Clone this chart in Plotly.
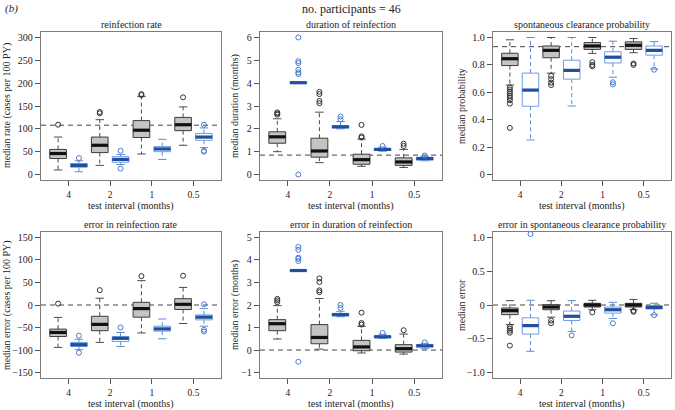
import plotly.graph_objects as go

intervals = ["4", "2", "1", "0.5"]

# each row: [lower whisker, q1, median, q3, upper whisker] for test interval 4, 2, 1, 0.5
rate_gray = [[10, 35, 46, 55, 82], [20, 48, 64, 82, 120], [45, 81, 97, 118, 171], [64, 96, 109, 125, 148]]
rate_gray_out = [[109], [134, 137], [174, 176], [169]]
rate_blue = [[6, 16, 20, 24, 30], [22, 27, 33, 39, 44], [33, 50, 56, 61, 77], [59, 75, 82, 90, 102]]
rate_blue_out = [[36], [52, 13], [], [109, 52, 50]]
rate_true = 108

dur_gray = [[1.0, 1.37, 1.65, 1.87, 2.44], [0.52, 0.76, 1.03, 1.59, 2.73], [0.36, 0.45, 0.65, 0.89, 1.55], [0.31, 0.40, 0.55, 0.73, 1.10]]
dur_gray_out = [[2.62, 2.67, 2.72], [3.12, 3.22, 3.52, 3.62], [1.62, 1.67, 2.17], [1.25, 1.35]]
dur_blue = [[3.99, 4.0, 4.02, 4.04, 4.05], [2.0, 2.04, 2.09, 2.13, 2.32], [1.02, 1.05, 1.1, 1.14, 1.2], [0.6, 0.63, 0.7, 0.75, 0.8]]
dur_blue_out = [[4.40, 4.47, 4.59, 4.88, 4.96, 6.0, 0.0], [2.42, 2.54], [1.25], [0.83]]
dur_true = 0.85

clr_gray = [[0.653, 0.795, 0.845, 0.885, 0.983], [0.74, 0.852, 0.906, 0.938, 1.0], [0.884, 0.913, 0.938, 0.963, 1.0], [0.889, 0.913, 0.943, 0.968, 0.993]]
clr_gray_out = [[0.636, 0.621, 0.606, 0.592, 0.574, 0.559, 0.542, 0.517, 0.34], [0.72, 0.696, 0.671, 0.653], [0.82, 0.80, 0.79], [0.81, 0.80]]
clr_blue = [[0.252, 0.498, 0.616, 0.74, 1.0], [0.5, 0.696, 0.76, 0.834, 1.0], [0.71, 0.814, 0.856, 0.896, 0.973], [0.77, 0.871, 0.906, 0.938, 0.97]]
clr_blue_out = [[], [], [0.673, 0.658], [0.765]]
clr_true = 0.933

erate_gray = [[-94, -70, -61, -53.5, -27.5], [-83, -57, -43, -25, 15], [-62, -27, -8, 6, 54], [-41, -10, 1.5, 14, 39]]
erate_gray_out = [[3], [33], [64], [65]]
erate_blue = [[-99, -92, -88, -83, -76], [-92, -81, -74, -70, -61], [-75, -58, -53, -47, -31], [-47, -33, -27, -22, -8]]
erate_blue_out = [[-68, -106], [-50], [], [1.5, -55, -59]]

edur_gray = [[0.49, 0.86, 1.17, 1.35, 1.97], [0.04, 0.28, 0.56, 1.13, 2.29], [-0.13, -0.03, 0.14, 0.43, 1.05], [-0.18, -0.09, 0.06, 0.24, 0.71]]
edur_gray_out = [[2.12, 2.2, 2.27], [2.57, 2.65, 3.02, 3.18], [1.13, 1.2, 1.66], [0.88]]
edur_blue = [[3.49, 3.51, 3.53, 3.55, 3.57], [1.48, 1.52, 1.57, 1.63, 1.72], [0.52, 0.55, 0.59, 0.63, 0.7], [0.06, 0.14, 0.19, 0.24, 0.3]]
edur_blue_out = [[3.95, 4.05, 4.1, 4.45, 4.58, -0.52], [1.87, 2.0], [0.76], [0.34]]

eclr_gray = [[-0.29, -0.143, -0.084, -0.044, 0.064], [-0.18, -0.07, -0.03, 0.005, 0.064], [-0.07, -0.03, 0.0, 0.025, 0.07], [-0.07, -0.03, 0.0, 0.025, 0.08]]
eclr_gray_out = [[-0.32, -0.35, -0.38, -0.41, -0.6], [-0.23, -0.27], [-0.11], [-0.085, -0.1]]
eclr_blue = [[-0.685, -0.43, -0.305, -0.19, 0.07], [-0.39, -0.23, -0.167, -0.09, 0.064], [-0.2, -0.12, -0.07, -0.03, 0.04], [-0.145, -0.06, -0.035, -0.01, 0.025]]
eclr_blue_out = [[1.05], [-0.45], [-0.27], [-0.15]]

panels = [
    dict(title="reinfection rate", ytitle="median rate (cases per 100 PY)", gray=rate_gray, gout=rate_gray_out,
         blue=rate_blue, bout=rate_blue_out, ref=rate_true, yrange=[-12, 312],
         tv=[0, 50, 100, 150, 200, 250, 300], tt=["0", "50", "100", "150", "200", "250", "300"]),
    dict(title="duration of reinfection", ytitle="median duration (months)", gray=dur_gray, gout=dur_gray_out,
         blue=dur_blue, bout=dur_blue_out, ref=dur_true, yrange=[-0.24, 6.24],
         tv=[0, 1, 2, 3, 4, 5, 6], tt=["0", "1", "2", "3", "4", "5", "6"]),
    dict(title="spontaneous clearance probability", ytitle="median probability", gray=clr_gray, gout=clr_gray_out,
         blue=clr_blue, bout=clr_blue_out, ref=clr_true, yrange=[-0.04, 1.04],
         tv=[0, 0.2, 0.4, 0.6, 0.8, 1.0], tt=["0", "0.2", "0.4", "0.6", "0.8", "1.0"]),
    dict(title="error in reinfection rate", ytitle="median error (cases per 100 PY)", gray=erate_gray, gout=erate_gray_out,
         blue=erate_blue, bout=erate_blue_out, ref=0, yrange=[-162, 162],
         tv=[-150, -100, -50, 0, 50, 100, 150], tt=["\u2212150", "\u2212100", "\u221250", "0", "50", "100", "150"]),
    dict(title="error in duration of reinfection", ytitle="median error (months)", gray=edur_gray, gout=edur_gray_out,
         blue=edur_blue, bout=edur_blue_out, ref=0, yrange=[-1.24, 5.24],
         tv=[-1, 0, 1, 2, 3, 4, 5], tt=["\u22121", "0", "1", "2", "3", "4", "5"]),
    dict(title="error in spontaneous clearance probability", ytitle="median error", gray=eclr_gray, gout=eclr_gray_out,
         blue=eclr_blue, bout=eclr_blue_out, ref=0, yrange=[-1.08, 1.08],
         tv=[-1.0, -0.5, 0, 0.5, 1.0], tt=["\u22121.0", "\u22120.5", "0", "0.5", "1.0"]),
]

W, H = 675, 410
col_px = [(41, 221), (260, 442), (493, 671)]
row_px = [(32, 180), (232, 378)]
ytitle_px = [7, 235, 461]
FONT = "Liberation Serif"
TXT = "#222222"

GRAY = dict(fill="#c4c4c4", edge="#3c3c3c", med="#111111", whisk="#4a4a4a", out="#333333")
BLUE = dict(fill="#ffffff", edge="#6f9be0", med="#1f4f9f", whisk="#5f8bd6", out="#4a7bd0")

fig = go.Figure()


def add_series(stats, outs, offset, xa, ya, c):
    bx, by, mx, my, wx, wy, cx, cy, ox, oy = ([] for _ in range(10))
    for i, (lo, q1, md, q3, hi) in enumerate(stats):
        p = 2 * i + offset
        bx += [p - 0.4, p + 0.4, p + 0.4, p - 0.4, p - 0.4, None]
        by += [q1, q1, q3, q3, q1, None]
        mx += [p - 0.4, p + 0.4, None]
        my += [md, md, None]
        wx += [p, p, None, p, p, None]
        wy += [q3, hi, None, q1, lo, None]
        cx += [p - 0.2, p + 0.2, None, p - 0.2, p + 0.2, None]
        cy += [hi, hi, None, lo, lo, None]
        for v in outs[i]:
            ox.append(p)
            oy.append(v)
    common = dict(xaxis=xa, yaxis=ya, showlegend=False, hoverinfo="skip")
    fig.add_trace(go.Scatter(x=wx, y=wy, mode="lines", line=dict(color=c["whisk"], width=1, dash="4px,3px"), **common))
    fig.add_trace(go.Scatter(x=cx, y=cy, mode="lines", line=dict(color=c["whisk"], width=1), **common))
    fig.add_trace(go.Scatter(x=bx, y=by, mode="lines", fill="toself", fillcolor=c["fill"],
                             line=dict(color=c["edge"], width=1), **common))
    fig.add_trace(go.Scatter(x=mx, y=my, mode="lines", line=dict(color=c["med"], width=3.2), **common))
    fig.add_trace(go.Scatter(x=ox, y=oy, mode="markers",
                             marker=dict(symbol="circle-open", size=5, color=c["out"], line=dict(width=1)), **common))


annotations = []
layout_axes = {}
for k, pnl in enumerate(panels):
    r, c = divmod(k, 3)
    n = "" if k == 0 else str(k + 1)
    xa, ya = "x" + n, "y" + n
    x0, x1 = col_px[c]
    y0, y1 = row_px[r]
    # reference line
    fig.add_trace(go.Scatter(x=[0.18, 8.82], y=[pnl["ref"], pnl["ref"]], mode="lines", xaxis=xa, yaxis=ya,
                             line=dict(color="#444444", width=1, dash="5px,4px"), showlegend=False, hoverinfo="skip"))
    add_series(pnl["gray"], pnl["gout"], 1, xa, ya, GRAY)
    add_series(pnl["blue"], pnl["bout"], 2, xa, ya, BLUE)
    layout_axes["xaxis" + n] = dict(domain=[x0 / W, x1 / W], anchor=ya, range=[0.18, 8.82],
                                    tickvals=[2 * i + 1.5 for i in range(len(intervals))], ticktext=intervals,
                                    ticks="outside", ticklen=5, tickcolor="#555555", showgrid=False, zeroline=False,
                                    showline=True, mirror=True, linecolor="#7c7c7c", linewidth=1.3,
                                    tickfont=dict(family=FONT, size=9.5, color=TXT))
    layout_axes["yaxis" + n] = dict(domain=[1 - y1 / H, 1 - y0 / H], anchor=xa, range=pnl["yrange"],
                                    tickvals=pnl["tv"], ticktext=pnl["tt"],
                                    ticks="outside", ticklen=5, tickcolor="#555555", showgrid=False, zeroline=False,
                                    showline=True, mirror=True, linecolor="#7c7c7c", linewidth=1.3,
                                    tickfont=dict(family=FONT, size=10, color=TXT))
    cx = (x0 + x1) / 2 / W
    annotations.append(dict(text=pnl["title"], x=cx, y=1 - (y0 - 8) / H, xref="paper", yref="paper",
                            showarrow=False, xanchor="center", yanchor="middle",
                            font=dict(family=FONT, size=10, color=TXT)))
    annotations.append(dict(text="test interval (months)", x=cx, y=1 - (y1 + 25.5) / H, xref="paper", yref="paper",
                            showarrow=False, xanchor="center", yanchor="middle",
                            font=dict(family=FONT, size=10, color=TXT)))
    annotations.append(dict(text=pnl["ytitle"], x=ytitle_px[c] / W, y=1 - (y0 + y1) / 2 / H, xref="paper",
                            yref="paper", showarrow=False, xanchor="center", yanchor="middle", textangle=-90,
                            font=dict(family=FONT, size=10, color=TXT)))

annotations.append(dict(text="no. participants = 46", x=351 / W, y=1 - 9 / H, xref="paper", yref="paper",
                        showarrow=False, xanchor="center", yanchor="middle", font=dict(family=FONT, size=12, color=TXT)))
annotations.append(dict(text="<i>(b)</i>", x=3 / W, y=1 - 8 / H, xref="paper", yref="paper",
                        showarrow=False, xanchor="left", yanchor="middle", font=dict(family=FONT, size=11, color=TXT)))

fig.update_layout(width=W, height=H, margin=dict(l=0, r=0, t=0, b=0), paper_bgcolor="white",
                  plot_bgcolor="white", annotations=annotations, **layout_axes)
fig.write_html("out.html", config={"displayModeBar": False},
               post_script="document.body.style.margin='0px';document.body.style.overflow='hidden';")
